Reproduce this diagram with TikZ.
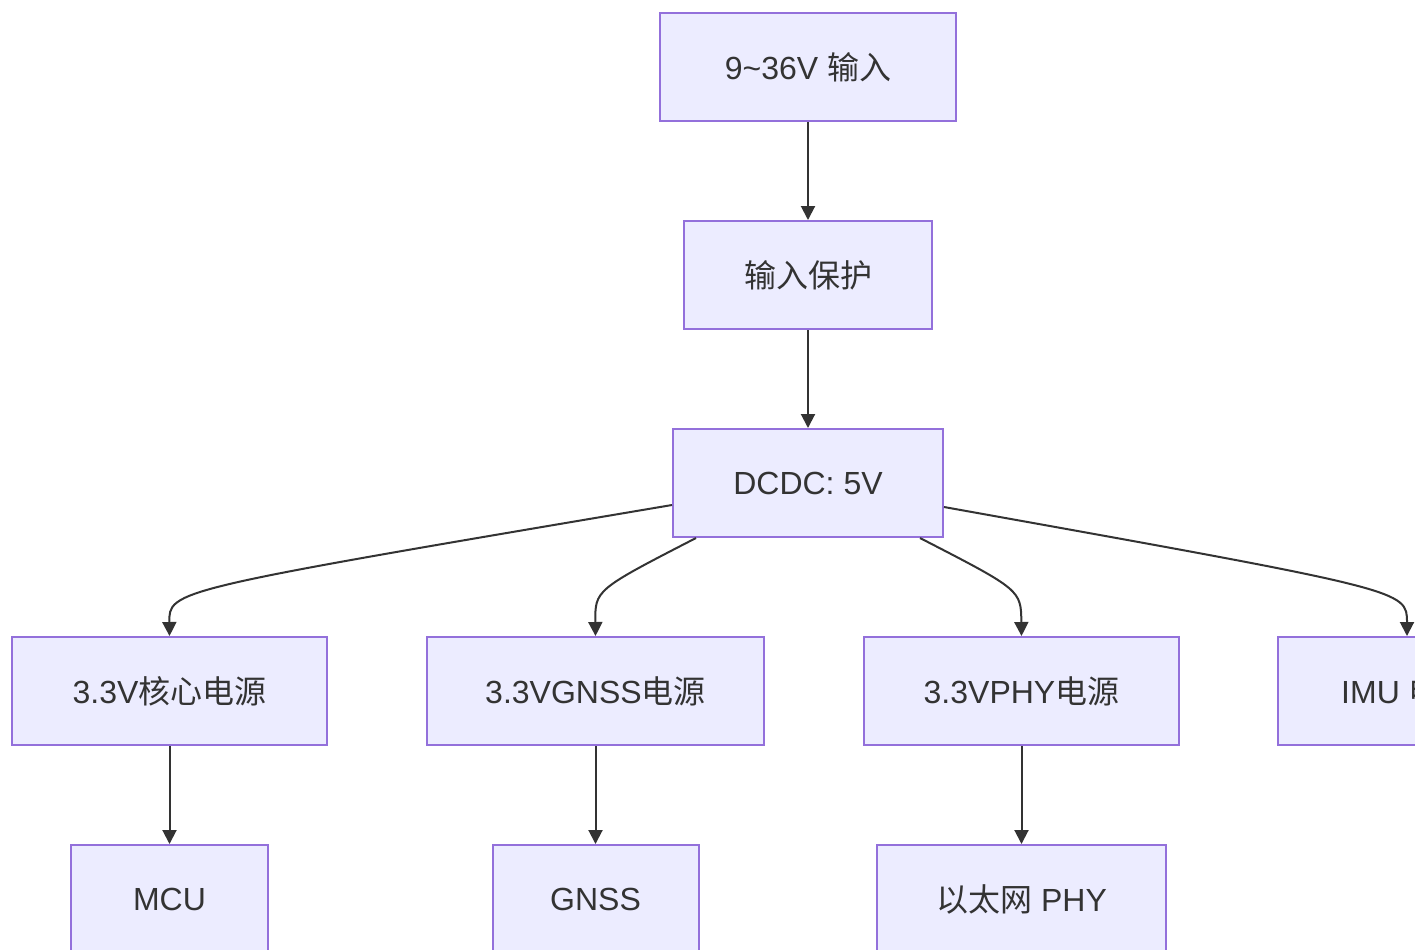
\documentclass[tikz,border=0pt]{standalone}
\usepackage{fontspec}
\setmainfont{Liberation Sans}
\newfontfamily\cjk{Noto Sans CJK SC}
\usetikzlibrary{arrows.meta}
\definecolor{nodefill}{HTML}{ECECFF}
\definecolor{nodeborder}{HTML}{9370DB}
\definecolor{edgecol}{HTML}{333333}
\tikzset{
  box/.style={draw=nodeborder, fill=nodefill, line width=1pt, text=edgecol,
    font=\fontsize{16pt}{19pt}\selectfont, inner sep=0pt, minimum height=54pt},
  conn/.style={draw=edgecol, line width=1pt, -{Triangle[length=7pt,width=7pt]}}
}
\begin{document}
\begin{tikzpicture}[x=0.5pt,y=-0.5pt]
\useasboundingbox[fill=white] (0,0) rectangle (1415,949);
\begin{scope}
\clip (0,0) rectangle (1415,949);
\node[box, minimum width=148pt] (A) at (808,67) {9\char"7E 36V {\cjk 输入}};
\node[box, minimum width=124pt] (B) at (808,275) {\cjk 输入保护};
\node[box, minimum width=135pt] (C) at (808,483) {DCDC: 5V};
\node[box, minimum width=157.5pt] (D) at (169.5,691) {3.3V{\cjk 核心电源}};
\node[box, minimum width=168.5pt] (E) at (595.5,691) {3.3VGNSS{\cjk 电源}};
\node[box, minimum width=157.5pt] (F) at (1021.5,691) {3.3VPHY{\cjk 电源}};
\node[box, minimum width=129pt] (G) at (1407,691) {IMU {\cjk 电源}};
\node[box, minimum width=98.5pt] (H) at (169.5,899) {MCU};
\node[box, minimum width=103pt] (I) at (595.5,899) {GNSS};
\node[box, minimum width=144.5pt] (J) at (1021.5,899) {{\cjk 以太网} PHY};

\draw[conn] (A.south) -- (B.north);
\draw[conn] (B.south) -- (C.north);
\draw[conn] ([yshift=-11pt]C.west) .. controls (169,590) .. (D.north);
\draw[conn] ([xshift=12pt]C.south west) .. controls (595,590) .. (E.north);
\draw[conn] ([xshift=-12pt]C.south east) .. controls (1021,590) .. (F.north);
\draw[conn] ([yshift=-12pt]C.east) .. controls (1407,590) .. (G.north);
\draw[conn] (D.south) -- (H.north);
\draw[conn] (E.south) -- (I.north);
\draw[conn] (F.south) -- (J.north);
\end{scope}
\end{tikzpicture}
\end{document}
